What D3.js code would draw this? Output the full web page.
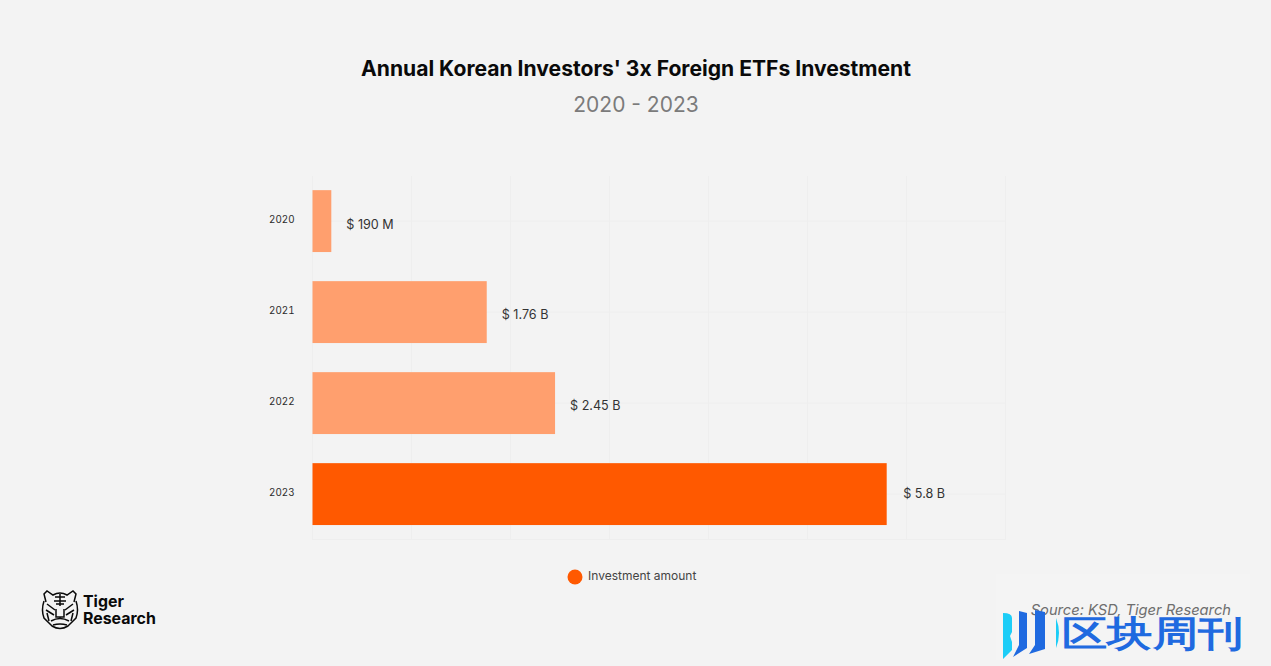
<!DOCTYPE html>
<html>
<head>
<meta charset="utf-8">
<script src="https://cdnjs.cloudflare.com/ajax/libs/d3/7.8.5/d3.min.js"></script>
<style>
  html, body { margin: 0; padding: 0; background: #f3f3f3; }
  svg { display: block; }
  text { font-family: Inter, "Noto Sans", sans-serif; }
</style>
</head>
<body>
<svg id="chart" width="1271" height="666"></svg>
<script>
const years = ['2020', '2021', '2022', '2023']
const amounts = [0.19, 1.76, 2.45, 5.8]
const amountLabels = ['$ 190 M', '$ 1.76 B', '$ 2.45 B', '$ 5.8 B']
const barColors = ['#ff9f6e', '#ff9f6e', '#ff9f6e', '#ff5900']
const gridTicks = [0, 1, 2, 3, 4, 5, 6, 7]

const svg = d3.select('#chart')
svg.append('rect').attr('width', 1271).attr('height', 666).attr('fill', '#f3f3f3')

// title
svg.append('text')
    .attr('x', 636).attr('y', 76)
    .attr('text-anchor', 'middle')
    .attr('font-size', 21.1).attr('font-weight', 700)
    .attr('fill', '#0a0a0a')
    .text("Annual Korean Investors' 3x Foreign ETFs Investment")
svg.append('text')
    .attr('x', 636).attr('y', 112)
    .attr('text-anchor', 'middle')
    .attr('font-size', 21).attr('font-weight', 400)
    .attr('fill', '#7b7b7b')
    .text('2020 - 2023')

// scales
const x = d3.scaleLinear().domain([0, 7]).range([312.5, 1005.5])
const y = d3.scaleBand().domain(years).range([175.6, 539.6]).paddingInner(0.32).paddingOuter(0.16)

// grid
const grid = svg.append('g').attr('stroke', '#eeeeee').attr('stroke-width', 1)
grid.selectAll('.vgrid')
    .data(gridTicks)
    .enter()
    .append('line')
    .attr('class', 'vgrid')
    .attr('x1', d => x(d)).attr('x2', d => x(d))
    .attr('y1', 176).attr('y2', 540)
grid.selectAll('.hgrid')
    .data(years)
    .enter()
    .append('line')
    .attr('class', 'hgrid')
    .attr('x1', 312).attr('x2', 1006)
    .attr('y1', d => y(d) + y.bandwidth() / 2)
    .attr('y2', d => y(d) + y.bandwidth() / 2)
grid.append('line')
    .attr('x1', 312).attr('x2', 1006)
    .attr('y1', 539.5).attr('y2', 539.5)

// bars
svg.selectAll('.bar')
    .data(years)
    .enter()
    .append('rect')
    .attr('class', 'bar')
    .attr('x', x(0))
    .attr('y', d => y(d))
    .attr('width', (d, i) => x(amounts[i]) - x(0))
    .attr('height', y.bandwidth())
    .attr('fill', (d, i) => barColors[i])

// value labels, the reference sits them a little unevenly
const labelNudge = [3.5, 2.5, 2.5, -1]
svg.selectAll('.value')
    .data(years)
    .enter()
    .append('text')
    .attr('class', 'value')
    .attr('x', (d, i) => x(amounts[i]) + (i === 3 ? 16.5 : 15))
    .attr('y', (d, i) => y(d) + y.bandwidth() / 2 + labelNudge[i])
    .attr('dy', '0.35em')
    .attr('font-size', 12.6)
    .attr('fill', '#333333')
    .text((d, i) => amountLabels[i])

// year labels
const yAxis = svg.append('g')
    .attr('transform', 'translate(294.5,-1.2)')
    .call(d3.axisLeft(y).tickSize(0).tickPadding(0))
yAxis.select('.domain').remove()
yAxis.selectAll('text')
    .attr('font-family', 'Inter')
    .attr('font-size', 9.8)
    .attr('fill', '#2b2b2b')
    .style('font-variant-numeric', 'tabular-nums')

// legend
svg.append('circle').attr('cx', 575).attr('cy', 577).attr('r', 7.5).attr('fill', '#ff5900')
svg.append('text')
    .attr('x', 588).attr('y', 580)
    .attr('font-size', 12)
    .attr('fill', '#444444')
    .text('Investment amount')

// tiger research logo
const logo = svg.append('g')
    .attr('fill', 'none').attr('stroke', '#0a0a0a').attr('stroke-width', 1.5)
logo.append('path').attr('d', 'M46 602 L44 594 L47 591 L53 595 Q60 591 67 595 L73 591 L76 594 L74 602')
logo.append('path').attr('d', 'M44 601 Q41 610 44 618 L52 626 Q60 631 68 626 L76 618 Q79 610 76 601')
logo.append('path').attr('d', 'M60 594 V606 M55 597 H65 M54 601 H66 M56 604 H64')
logo.append('path').attr('d', 'M47 604 L55 610 M73 604 L65 610 M46 610 L54 615 M74 610 L66 615')
logo.append('path').attr('d', 'M56 609 V617 H64 V609 M51 621 Q60 616 69 621 M53 625 Q60 623 67 625')
logo.append('path').attr('d', 'M47 613 L49 621 M73 613 L71 621')
svg.append('text')
    .attr('x', 83).attr('y', 607)
    .attr('font-size', 15.9).attr('font-weight', 700)
    .attr('fill', '#0a0a0a')
    .text('Tiger')
svg.append('text')
    .attr('x', 83).attr('y', 624)
    .attr('font-size', 15.9).attr('font-weight', 700)
    .attr('fill', '#0a0a0a')
    .text('Research')

// source + watermark
svg.append('rect')
    .attr('x', 996).attr('y', 574).attr('width', 254).attr('height', 86)
    .attr('fill', '#f4f4f4')
svg.append('text')
    .attr('x', 1231).attr('y', 615)
    .attr('text-anchor', 'end')
    .attr('font-size', 14.7).attr('font-style', 'italic')
    .attr('fill', '#6e6e6e')
    .text('Source: KSD, Tiger Research')

const mark = svg.append('g')
mark.append('path').attr('d', 'M1003 613 Q1012 613 1012 618 V632 L1010 636 L1012 642 V650 L1003 659 Z').attr('fill', '#1ccdf7')
mark.append('path').attr('d', 'M1019 611 L1027 613 V648 L1013 657 L1019 645 Z').attr('fill', '#1f6ae0')
mark.append('path').attr('d', 'M1035 610 L1045 612 V649 L1029 654 L1035 645 Z').attr('fill', '#1f6ae0')
mark.append('path').attr('d', 'M1056 618 Q1062 633 1056 648 Z').attr('fill', '#1ccdf7')
svg.append('text')
    .attr('x', 1062).attr('y', 646)
    .attr('font-family', '"Noto Sans CJK SC"')
    .attr('font-size', 36).attr('font-weight', 700)
    .attr('textLength', 181).attr('lengthAdjust', 'spacingAndGlyphs')
    .attr('fill', '#1f6ae0')
    .text('区块周刊')
</script>
</body>
</html>
